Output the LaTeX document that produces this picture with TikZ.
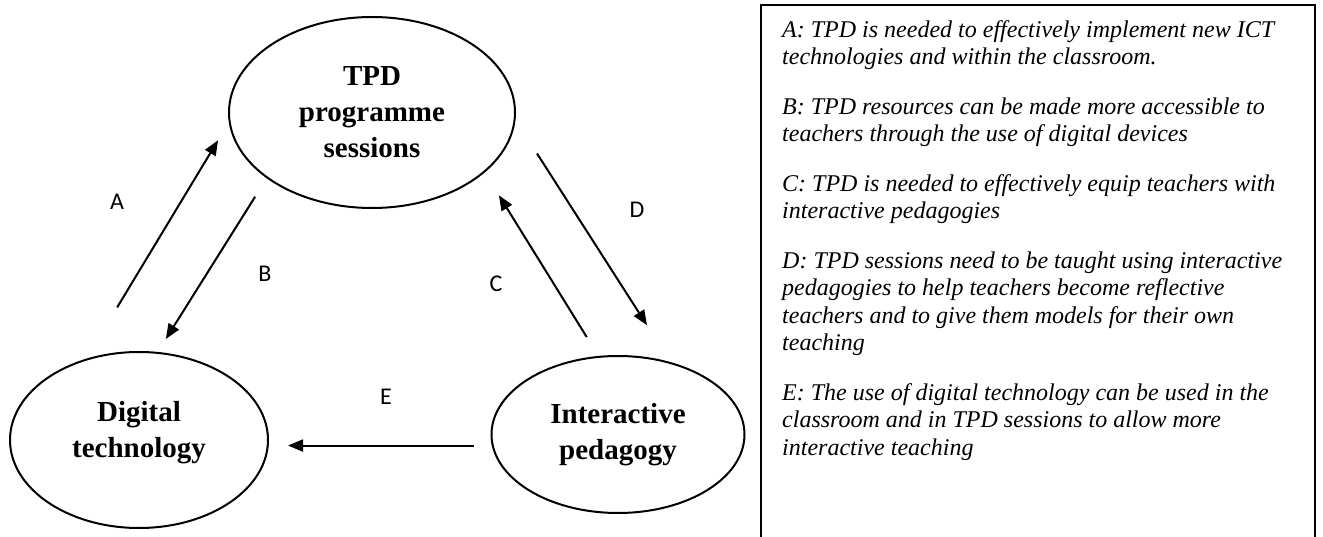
\documentclass[tikz,border=0pt]{standalone}
\usepackage{fontspec}
\setmainfont{Liberation Serif}
\newfontfamily\lblfont{Carlito}
\usetikzlibrary{shapes.geometric,arrows.meta,positioning}

\tikzset{
  topic/.style={ellipse, draw, line width=2pt, inner sep=0pt, align=center,
    font=\fontsize{29}{36}\selectfont\bfseries},
  link/.style={line width=2pt, -{Triangle[length=15pt,width=12pt]}},
  tag/.style={font=\lblfont\fontsize{24}{28}\selectfont},
}

\begin{document}
\begin{tikzpicture}[x=1pt,y=-1pt]
\useasboundingbox (0,0) rectangle (1323,537);
% the three ellipses
\node[topic, minimum width=286pt, minimum height=191pt] (tpd) at (372,112.5) {TPD\\programme\\sessions};
\node[topic, minimum width=258pt, minimum height=176pt, text depth=22pt] (dig) at (139,440) {Digital\\technology};
\node[topic, minimum width=253pt, minimum height=157pt] (int) at (618,434.5) {Interactive\\pedagogy};
% arrows between them
\draw[link, shorten <=59.9pt, shorten >=20.7pt] (dig.123) -- (tpd.184);
\draw[link, shorten <=21.7pt, shorten >=15.3pt] (tpd.212) -- (dig.78);
\draw[link, shorten <=22.2pt, shorten >=26.9pt] (int.104) -- (tpd.332);
\draw[link, shorten <=39.8pt, shorten >=43.7pt] (tpd.357) -- (int.54);
\draw[link, shorten <=17.8pt, shorten >=19.4pt] (int.185) -- (dig.357 |- int.185);
% letters
\node[tag] (lblA) at (117,202) {A};
\node[tag] (lblB) at (265,274) {B};
\node[tag] (lblC) at (496,284) {C};
\node[tag] (lblD) at (637,210) {D};
\node[tag] (lblE) at (386,397) {E};
% key box, open at the bottom
\draw[line width=2.5pt] (761,545) -- (761,5) -- (1315,5) -- (1315,545);
\node[anchor=north west, inner sep=0pt, align=left,
      font=\fontsize{24}{27.5}\selectfont\itshape] (notes) at (782,20)
  {A: TPD is needed to effectively implement new ICT\\
   technologies and within the classroom.\\[22pt]
   B: TPD resources can be made more accessible to\\
   teachers through the use of digital devices\\[22pt]
   C: TPD is needed to effectively equip teachers with\\
   interactive pedagogies\\[22pt]
   D: TPD sessions need to be taught using interactive\\
   pedagogies to help teachers become reflective\\
   teachers and to give them models for their own\\
   teaching\\[22pt]
   E: The use of digital technology can be used in the\\
   classroom and in TPD sessions to allow more\\
   interactive teaching};
\end{tikzpicture}
\end{document}
